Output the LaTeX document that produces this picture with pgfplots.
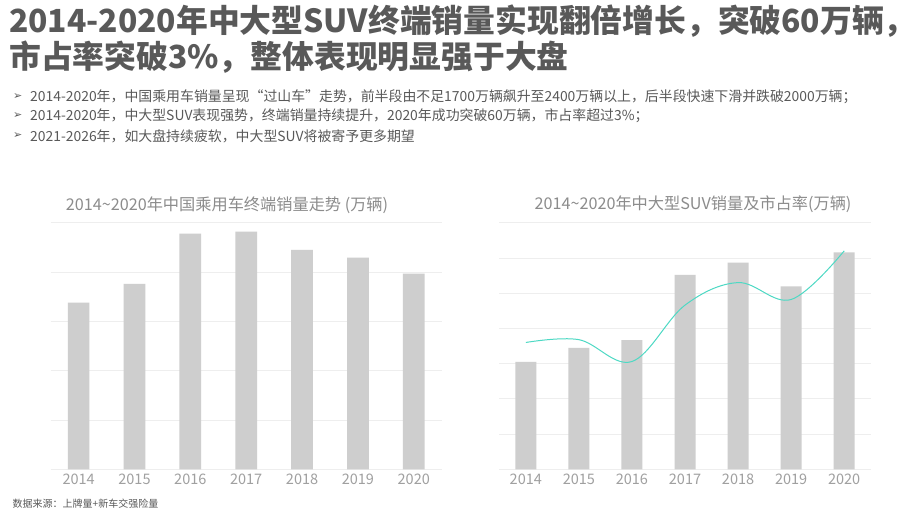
\documentclass[border=0pt]{standalone}
\usepackage{pgfplots}
\pgfplotsset{compat=1.18}
\usepackage{fontspec}
\setmainfont{Noto Sans CJK SC}
\newfontfamily\dejavu{DejaVu Sans}
\definecolor{titlegray}{HTML}{595959}
\definecolor{textgray}{HTML}{595959}
\definecolor{ctitle}{HTML}{8C8C8C}
\definecolor{tickc}{HTML}{A0A0A0}
\definecolor{barc}{HTML}{CECECE}
\definecolor{gridc}{HTML}{EEEEEE}
\definecolor{linec}{HTML}{4DD9C4}
\pgfplotstableread{
x v
0 1690
1 1880
2 2390
3 2410
4 2225
5 2145
6 1985
}\totaltbl
\pgfplotstableread{
x v s
0 30.5 1.80
1 34.5 1.84
2 36.7 1.53
3 55.2 2.33
4 58.7 2.65
5 51.9 2.41
6 61.6 3.10
}\suvtbl
\begin{document}
\begin{tikzpicture}[x=1pt,y=1pt]
\path[use as bounding box, fill=white] (0pt,0pt) rectangle (920pt,-518pt);
\node[anchor=west, inner sep=0, font=\fontsize{31.8}{36}\selectfont\bfseries, text=titlegray] at (9pt,-21pt) {2014-2020年中大型SUV终端销量实现翻倍增长，突破60万辆，};
\node[anchor=west, inner sep=0, font=\fontsize{31.8}{36}\selectfont\bfseries, text=titlegray] at (9pt,-57pt) {市占率突破3\%，整体表现明显强于大盘};
\foreach \yy/\txt in {97/{2014-2020年，中国乘用车销量呈现“过山车”走势，前半段由不足1700万辆飙升至2400万辆以上，后半段快速下滑并跌破2000万辆；},116/{2014-2020年，中大型SUV表现强势，终端销量持续提升，2020年成功突破60万辆，市占率超过3\%；},136/{2021-2026年，如大盘持续疲软，中大型SUV将被寄予更多期望}}{
  \node[anchor=west, inner sep=0, font=\dejavu\fontsize{11}{13}\selectfont, text=textgray] at (13pt,-\yy pt) {➢};
  \node[anchor=west, inner sep=0, font=\fontsize{13.9}{16}\selectfont, text=textgray] at (30pt,-\yy pt) {\txt};
}
\node[anchor=west, inner sep=0, font=\fontsize{10}{12}\selectfont, text=textgray] at (12.5pt,-504pt) {数据来源：上牌量+新车交强险量};
\node[font=\fontsize{16.2}{19}\selectfont, text=ctitle] at (227pt,-205pt) {2014\char"007E 2020年中国乘用车终端销量走势 (万辆)};
\node[font=\fontsize{16.2}{19}\selectfont, text=ctitle] at (693pt,-204pt) {2014\char"007E 2020年中大型SUV销量及市占率(万辆)};
\begin{axis}[at={(50.7pt,-469.3pt)}, anchor=south west, scale only axis,
  width=391pt, height=246.6pt, xmin=-0.5, xmax=6.5, ymin=0, ymax=2500,
  axis line style={draw=none}, ytick={0,500,...,2500}, yticklabels={},
  ymajorgrids, grid style={color=gridc, line width=0.8pt}, major tick length=0pt,
  xtick={0,...,6}, xticklabels={2014,2015,2016,2017,2018,2019,2020},
  xticklabel style={font=\fontsize{14.5}{16}\selectfont, text=tickc, yshift=-1pt},
  /pgf/number format/assume math mode=true, clip=false]
\addplot[ybar, bar width=21.7pt, fill=barc, draw=none] table[x=x,y=v]{\totaltbl};
\end{axis}
\begin{axis}[at={(499.3pt,-469.3pt)}, anchor=south west, scale only axis,
  width=371.4pt, height=246.6pt, xmin=-0.5, xmax=6.5, ymin=0, ymax=70,
  axis line style={draw=none}, ytick={0,10,...,70}, yticklabels={},
  ymajorgrids, grid style={color=gridc, line width=0.8pt}, major tick length=0pt,
  xtick={0,...,6}, xticklabels={2014,2015,2016,2017,2018,2019,2020},
  xticklabel style={font=\fontsize{14.5}{16}\selectfont, text=tickc, yshift=-1pt},
  /pgf/number format/assume math mode=true, clip=false]
\addplot[ybar, bar width=21pt, fill=barc, draw=none] table[x=x,y=v]{\suvtbl};
\end{axis}
\begin{axis}[at={(499.3pt,-469.3pt)}, anchor=south west, scale only axis,
  width=371.4pt, height=246.6pt, xmin=-0.5, xmax=6.5, ymin=0, ymax=3.5,
  hide axis, clip=false]
\addplot[smooth, tension=0.6, color=linec, line width=1pt, no marks] table[x=x,y=s]{\suvtbl};
\end{axis}
\end{tikzpicture}
\end{document}
